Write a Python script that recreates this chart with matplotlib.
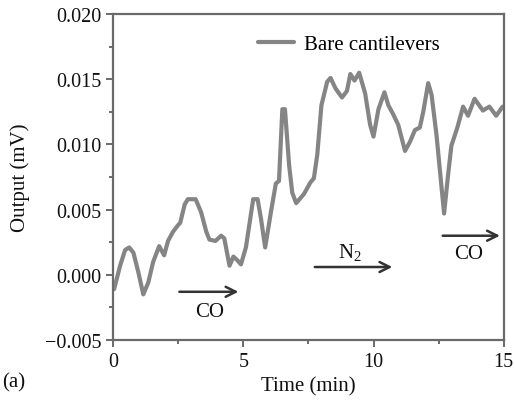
import matplotlib
matplotlib.use('Agg')
import matplotlib.pyplot as plt
from matplotlib.ticker import MultipleLocator

# Sensor output over time (min, mV)
time_min = [0.04, 0.27, 0.46, 0.62, 0.78, 0.97, 1.16, 1.35, 1.54, 1.77, 1.96, 2.11,
            2.30, 2.49, 2.58, 2.75, 2.87, 3.17, 3.38, 3.58, 3.70, 3.93, 4.15, 4.27,
            4.47, 4.62, 4.78, 4.91, 5.10, 5.38, 5.55, 5.68, 5.84, 6.06, 6.25, 6.37,
            6.50, 6.60, 6.76, 6.88, 7.03, 7.33, 7.58, 7.71, 7.84, 8.00, 8.22, 8.35,
            8.54, 8.79, 8.98, 9.11, 9.27, 9.45, 9.68, 9.87, 10.00, 10.19, 10.42,
            10.57, 10.76, 10.95, 11.21, 11.40, 11.59, 11.78, 11.91, 12.10, 12.23,
            12.42, 12.71, 12.86, 12.99, 13.22, 13.44, 13.63, 13.88, 14.20, 14.45,
            14.71, 14.96]
output_mv = [-0.0011, 0.0007, 0.0019, 0.0021, 0.0017, 0.0002, -0.0015, -0.0006,
             0.0010, 0.0022, 0.0015, 0.0026, 0.0033, 0.0038, 0.0040, 0.0054, 0.0058,
             0.0058, 0.0048, 0.0033, 0.0027, 0.0026, 0.0030, 0.0028, 0.0007, 0.0014,
             0.0011, 0.0008, 0.0021, 0.0058, 0.0058, 0.0043, 0.0021, 0.0048, 0.0070,
             0.0072, 0.0127, 0.0127, 0.0084, 0.0063, 0.0055, 0.0062, 0.0071, 0.0074,
             0.0092, 0.0130, 0.0148, 0.0151, 0.0143, 0.0136, 0.0141, 0.0154, 0.0149,
             0.0155, 0.0139, 0.0115, 0.0106, 0.0127, 0.0140, 0.0130, 0.0123, 0.0115,
             0.0095, 0.0102, 0.0111, 0.0113, 0.0125, 0.0147, 0.0138, 0.0107, 0.0047,
             0.0076, 0.0099, 0.0113, 0.0129, 0.0122, 0.0135, 0.0126, 0.0129, 0.0122,
             0.0129]

# Gas switching annotations: label, arrow start/end (min), arrow level, label position
gas_labels = ['CO', 'N$_2$', 'CO']
arrow_start = [2.44, 7.64, 12.55]
arrow_end = [4.92, 10.83, 14.96]
arrow_level = [-0.0013, 0.0006, 0.0030]
label_x = [3.7, 9.1, 13.65]
label_y = [-0.0028, 0.0017, 0.0016]

plt.rcParams['font.family'] = ['Liberation Serif', 'DejaVu Serif']
plt.rcParams['mathtext.fontset'] = 'custom'
plt.rcParams['mathtext.rm'] = 'Liberation Serif'

FS = 15

fig = plt.figure(figsize=(5.14, 4.06), dpi=100)
ax = fig.add_axes([0.22, 0.16, 0.760, 0.803])

ax.plot(time_min, output_mv, color='#858585', lw=3.0, label='Bare cantilevers',
        solid_joinstyle='round', solid_capstyle='round')

for lab, x0, x1, y, lx, ly in zip(gas_labels, arrow_start, arrow_end, arrow_level, label_x, label_y):
    ax.annotate('', xy=(x1, y), xytext=(x0, y),
                arrowprops=dict(arrowstyle='->', color='#333333', lw=1.8,
                                mutation_scale=18))
    ax.text(lx, ly, lab, fontsize=FS, ha='center', va='center', color='#111111')

ax.set_xlim(0, 15)
ax.set_ylim(-0.005, 0.020)
ax.xaxis.set_major_locator(MultipleLocator(5))
ax.xaxis.set_minor_locator(MultipleLocator(2.5))
ax.yaxis.set_major_locator(MultipleLocator(0.005))
ax.yaxis.set_minor_locator(MultipleLocator(0.0025))
ax.set_yticklabels([f'{v:.3f}'.replace('-', '\u2212') for v in ax.get_yticks()])

for s in ax.spines.values():
    s.set_color('#6a6a6a')
    s.set_linewidth(1.6)
ax.tick_params(which='both', direction='out', colors='#6a6a6a', labelcolor='#111111',
               labelsize=14.5, width=1.4)
ax.tick_params(which='major', length=5)
ax.tick_params(which='minor', length=3)

ax.set_xlabel('Time (min)', fontsize=FS, color='#111111')
ax.set_ylabel('Output (mV)', fontsize=FS, color='#111111')
ax.yaxis.set_label_coords(-0.213, 0.5)

leg = ax.legend(loc='upper left', bbox_to_anchor=(0.371, 0.937), frameon=False,
                fontsize=FS, handlelength=1.75, handletextpad=0.45,
                borderpad=0, borderaxespad=0)

fig.text(0.005, 0.057, '(a)', fontsize=FS, color='#111111', ha='left', va='center')

fig.savefig('out.png', dpi=100)
